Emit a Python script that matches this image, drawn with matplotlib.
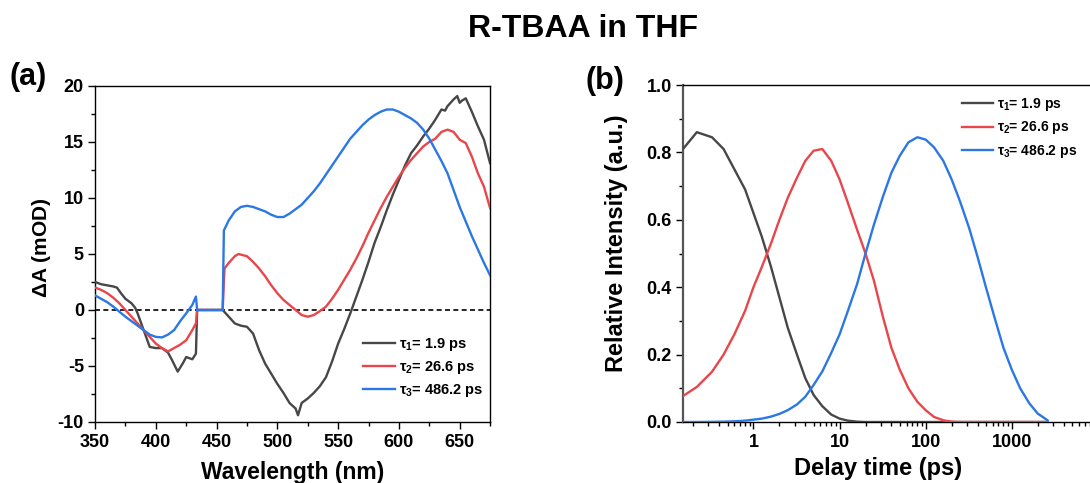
import matplotlib
matplotlib.use("Agg")
import matplotlib.pyplot as plt
from matplotlib.ticker import MultipleLocator, LogLocator, NullFormatter, FixedLocator

plt.rcParams['font.family'] = 'Liberation Sans'
plt.rcParams['font.weight'] = 'bold'
plt.rcParams['mathtext.fontset'] = 'custom'
plt.rcParams['mathtext.rm'] = 'Liberation Sans:bold'
plt.rcParams['mathtext.it'] = 'Liberation Sans:bold'
plt.rcParams['axes.unicode_minus'] = False

# ---- data, panel (a): decay associated spectra ----
wl_t1 = [350, 355, 360, 365, 368, 372, 375, 380, 383, 385, 390, 395, 400, 405, 410, 413, 418,
         422, 425, 430, 433, 434, 455, 460, 465, 470, 475, 480, 485, 490, 495, 500, 505, 510,
         515, 517, 520, 525, 530, 535, 540, 545, 550, 555, 560, 565, 570, 575, 580, 585, 590,
         595, 600, 605, 610, 615, 620, 625, 630, 635, 638, 640, 645, 648, 650, 652, 655, 660,
         665, 670, 675]
dA_t1 = [2.5, 2.3, 2.2, 2.1, 2.0, 1.4, 1.0, 0.6, 0.2, -0.3, -1.8, -3.3, -3.4, -3.4, -3.8, -4.4, -5.5,
         -4.8, -4.2, -4.4, -3.9, 0.0, 0.0, -0.6, -1.2, -1.4, -1.5, -2.1, -3.6, -4.8, -5.7, -6.6, -7.4, -8.3,
         -8.8, -9.4, -8.3, -7.9, -7.4, -6.8, -6.0, -4.6, -3.0, -1.7, -0.3, 1.2, 2.7, 4.3, 6.0, 7.4, 8.9,
         10.3, 11.6, 12.9, 14.0, 14.7, 15.5, 16.2, 17.0, 17.9, 17.8, 18.2, 18.8, 19.1, 18.5, 18.7, 18.9, 17.7,
         16.4, 15.2, 13.1]

wl_t2 = [350, 355, 360, 365, 370, 375, 380, 385, 390, 395, 400, 405, 410, 415, 420, 425, 430, 433,
         434, 455, 456, 456.5, 460, 465, 468, 475, 480, 485, 490, 495, 500, 505, 510, 515, 520, 525,
         530, 535, 540, 545, 550, 555, 560, 565, 570, 575, 580, 585, 590, 595, 600, 605, 610, 615,
         620, 625, 630, 635, 640, 645, 650, 655, 660, 665, 670, 675]
dA_t2 = [2.0, 1.8, 1.5, 1.1, 0.6, 0.0, -0.6, -1.2, -1.8, -2.4, -3.0, -3.4, -3.7, -3.4, -3.1, -2.7, -1.8, -1.2,
         0.0, 0.0, 2.5, 3.7, 4.2, 4.8, 5.0, 4.8, 4.3, 3.7, 3.0, 2.2, 1.5, 0.9, 0.45, 0.0, -0.45, -0.6,
         -0.45, -0.1, 0.3, 1.0, 1.8, 2.7, 3.6, 4.6, 5.7, 6.9, 8.0, 9.1, 10.1, 11.0, 11.9, 12.7, 13.4, 14.0,
         14.6, 15.0, 15.3, 15.9, 16.1, 15.9, 15.2, 14.9, 13.7, 12.2, 11.0, 9.1]

wl_t3 = [350, 355, 360, 365, 370, 375, 380, 385, 390, 395, 400, 405, 410, 415, 420, 425, 430, 433,
         434, 455, 456, 460, 465, 470, 475, 480, 485, 490, 495, 500, 505, 510, 515, 520, 525, 530,
         535, 540, 545, 550, 555, 560, 565, 570, 575, 580, 585, 590, 595, 600, 605, 610, 615, 620,
         625, 630, 635, 640, 645, 650, 655, 660, 665, 670, 675]
dA_t3 = [1.3, 1.0, 0.7, 0.3, -0.15, -0.6, -1.0, -1.4, -1.8, -2.2, -2.4, -2.45, -2.2, -1.8, -1.0, -0.3, 0.45, 1.2,
         0.0, 0.0, 7.1, 8.0, 8.8, 9.2, 9.3, 9.2, 9.0, 8.8, 8.5, 8.3, 8.3, 8.6, 9.0, 9.4, 10.0, 10.6,
         11.3, 12.1, 12.9, 13.7, 14.5, 15.3, 15.9, 16.5, 17.0, 17.4, 17.7, 17.9, 17.9, 17.7, 17.4, 17.1, 16.7, 16.1,
         15.3, 14.3, 13.3, 12.2, 10.7, 9.2, 7.9, 6.6, 5.4, 4.2, 3.1]

# ---- data, panel (b): relative population vs delay ----
delay = [0.152, 0.22, 0.33, 0.45, 0.6, 0.8, 1.0, 1.25, 1.6, 2.0, 2.5, 3.2, 4.0, 5.0, 6.3, 8.0,
         10, 12.5, 16, 20, 25, 32, 40, 50, 63, 80, 100, 125, 160, 200, 250, 320, 400, 500, 630,
         800, 1000, 1250, 1600, 2000, 2600]
pop_t1 = [0.81, 0.86, 0.845, 0.81, 0.75, 0.69, 0.62, 0.55, 0.46, 0.37, 0.28, 0.20, 0.13, 0.08, 0.047, 0.022,
          0.01, 0.004, 0.001, 0, 0, 0, 0, 0, 0, 0, 0, 0, 0, 0, 0, 0, 0, 0, 0,
          0, 0, 0, 0, 0, 0]
pop_t2 = [0.077, 0.104, 0.149, 0.20, 0.26, 0.33, 0.40, 0.46, 0.53, 0.60, 0.665, 0.725, 0.775, 0.805, 0.81, 0.775,
          0.72, 0.65, 0.57, 0.50, 0.42, 0.31, 0.22, 0.155, 0.10, 0.06, 0.035, 0.015, 0.005, 0.001, 0, 0, 0, 0, 0,
          0, 0, 0, 0, 0, 0]
pop_t3 = [0, 0, 0.0005, 0.001, 0.002, 0.004, 0.007, 0.010, 0.016, 0.024, 0.035, 0.052, 0.075, 0.11, 0.15, 0.205,
          0.26, 0.33, 0.41, 0.50, 0.585, 0.67, 0.74, 0.79, 0.83, 0.845, 0.838, 0.815, 0.775, 0.72, 0.655, 0.575, 0.49, 0.40, 0.31,
          0.22, 0.155, 0.10, 0.055, 0.025, 0.005]

labels = [r'$\tau_1$= 1.9 ps', r'$\tau_2$= 26.6 ps', r'$\tau_3$= 486.2 ps']
colors = ['#474747', '#e8464b', '#2b78e4']

fig = plt.figure(figsize=(10.9, 4.83), dpi=100)
ax_a = fig.add_axes([0.0872, 0.1263, 0.3624, 0.6957])
ax_b = fig.add_axes([0.6266, 0.1263, 0.3807, 0.6977])

# panel (a)
ax_a.axhline(0, color='black', ls=(0, (3, 2)), lw=1.2, zorder=1)
for wl, dA, c, lab in zip([wl_t1, wl_t2, wl_t3], [dA_t1, dA_t2, dA_t3], colors, labels):
    ax_a.plot(wl, dA, color=c, lw=1.7, label=lab, zorder=3)
ax_a.set_xlim(350, 675)
ax_a.set_ylim(-10, 20)
ax_a.xaxis.set_major_locator(MultipleLocator(50))
ax_a.xaxis.set_minor_locator(MultipleLocator(25))
ax_a.yaxis.set_major_locator(MultipleLocator(5))
ax_a.yaxis.set_minor_locator(MultipleLocator(2.5))
ax_a.tick_params(axis='x', which='major', labelsize=13, length=5, width=1, direction='out', pad=4)
ax_a.tick_params(axis='y', which='major', labelsize=13, length=5, width=1, direction='out', pad=3)
ax_a.tick_params(which='minor', length=3, width=1, direction='out')
ax_a.set_xlabel('Wavelength (nm)', fontsize=16.5, fontweight='bold', labelpad=7)
ax_a.set_ylabel(r'$\Delta$A (mOD)', fontsize=15, fontweight='bold')
ax_a.yaxis.set_label_coords(-0.106, 0.518)
for s in ax_a.spines.values():
    s.set_linewidth(1.0)
ax_a.legend(loc='upper left', bbox_to_anchor=(0.333, 0.304), bbox_transform=fig.transFigure,
            frameon=False, fontsize=10.5, handlelength=2.2, handletextpad=0.3, labelspacing=0.42,
            borderpad=0, borderaxespad=0)

# panel (b)
for p, c, lab in zip([pop_t1, pop_t2, pop_t3], colors, labels):
    ax_b.plot(delay, p, color=c, lw=1.7, label=lab, zorder=3)
ax_b.set_xscale('log')
ax_b.set_xlim(0.152, 10000)
ax_b.set_ylim(0, 1.0)
ax_b.xaxis.set_major_locator(FixedLocator([1, 10, 100, 1000]))
ax_b.xaxis.set_minor_locator(LogLocator(base=10, subs=range(2, 10), numticks=20))
ax_b.xaxis.set_minor_formatter(NullFormatter())
ax_b.set_xticklabels(['1', '10', '100', '1000'])
ax_b.yaxis.set_major_locator(MultipleLocator(0.2))
ax_b.yaxis.set_minor_locator(MultipleLocator(0.1))
ax_b.yaxis.set_major_formatter(plt.FuncFormatter(lambda v, _: f'{v:.1f}'))
ax_b.tick_params(axis='x', which='major', labelsize=13, length=5, width=1, direction='out', pad=4)
ax_b.tick_params(axis='y', which='major', labelsize=13, length=5, width=1, direction='out', pad=3)
ax_b.tick_params(which='minor', length=3, width=1, direction='out')
ax_b.set_xlabel('Delay time (ps)', fontsize=17, fontweight='bold')
ax_b.xaxis.set_label_coords(0.47, -0.105)
ax_b.set_ylabel('Relative Intensity (a.u.)', fontsize=17, fontweight='bold')
ax_b.yaxis.set_label_coords(-0.133, 0.53)
ax_b.spines['right'].set_visible(False)
ax_b.spines['left'].set_color('#555555')
ax_b.spines['left'].set_linewidth(1.6)
for k in ['top', 'bottom']:
    ax_b.spines[k].set_linewidth(1.0)
ax_b.legend(loc='upper left', bbox_to_anchor=(0.8826, 0.801), bbox_transform=fig.transFigure,
            frameon=False, fontsize=10, handlelength=2.2, handletextpad=0.3, labelspacing=0.45,
            borderpad=0, borderaxespad=0)

fig.text(0.535, 0.94, 'R-TBAA in THF', ha='center', va='center', fontsize=23, fontweight='bold')
fig.text(0.026, 0.84, '(a)', ha='center', va='center', fontsize=22, fontweight='bold')
fig.text(0.555, 0.832, '(b)', ha='center', va='center', fontsize=22, fontweight='bold')

fig.savefig('out.png', dpi=100)
